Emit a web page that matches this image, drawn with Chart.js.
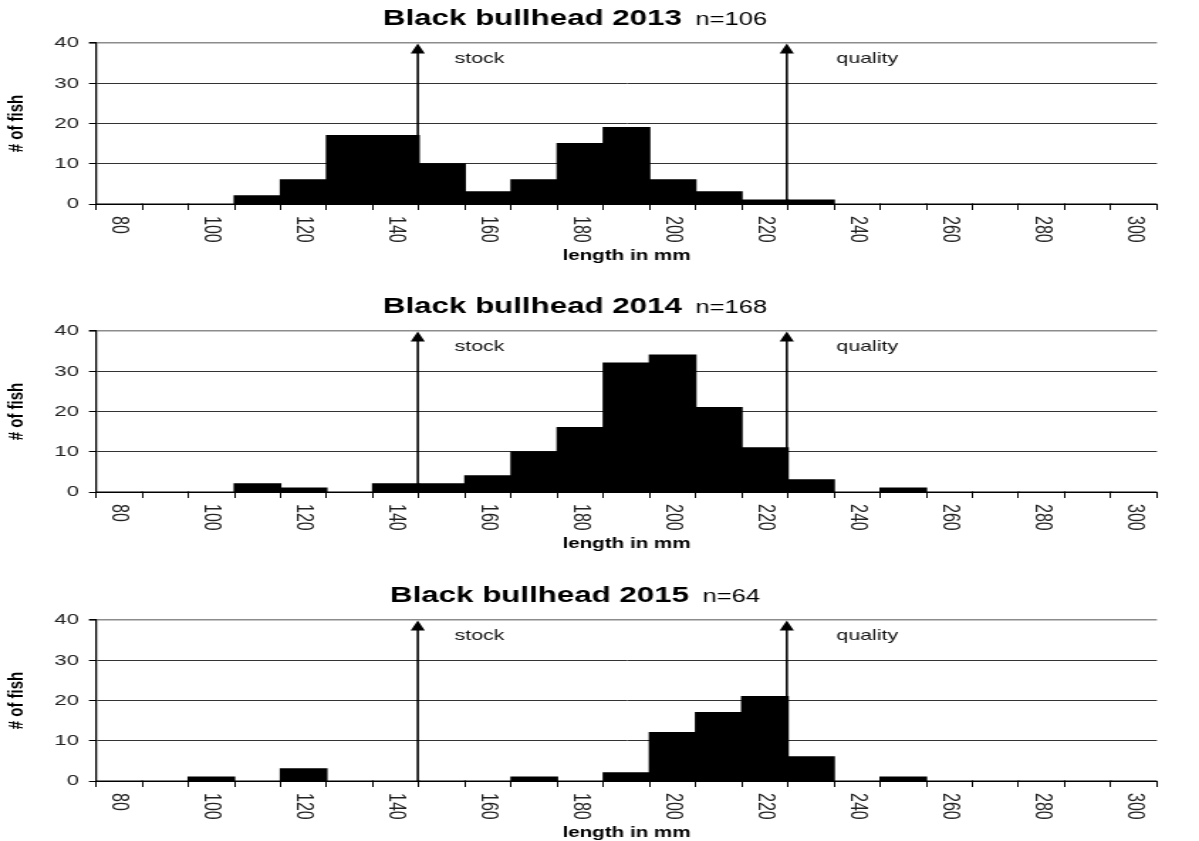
<!DOCTYPE html>
<html>
<head>
<meta charset="utf-8">
<script src="https://cdn.jsdelivr.net/npm/chart.js@4.4.0/dist/chart.umd.min.js"></script>
<style>
html,body{margin:0;padding:0;background:#fff;overflow:hidden;}
#wrap{position:relative;width:1199px;height:841px;overflow:hidden;background:#fff;}
.panel{position:absolute;left:0;transform-origin:0 0;transform:scale(1.42062,1);}
canvas{display:block;}
</style>
</head>
<body>
<div id="wrap">
  <div class="panel" style="top:0px"><canvas id="c0" width="844" height="288"></canvas></div>
  <div class="panel" style="top:288px"><canvas id="c1" width="844" height="288"></canvas></div>
  <div class="panel" style="top:577px"><canvas id="c2" width="844" height="264"></canvas></div>
</div>
<script>
// ---- data ----
const lengthBins = [80,90,100,110,120,130,140,150,160,170,180,190,200,210,220,230,240,250,260,270,280,290,300];
const xTickLabels = ['80','100','120','140','160','180','200','220','240','260','280','300'];
const years = ['2013','2014','2015'];
const sampleSizes = [106,168,64];
const counts2013 = [0,0,0,2,6,17,17,10,3,6,15,19,6,3,1,1,0,0,0,0,0,0,0];
const counts2014 = [0,0,0,2,1,0,2,2,4,10,16,32,34,21,11,3,0,1,0,0,0,0,0];
const counts2015 = [0,0,1,0,3,0,0,0,0,1,0,2,12,17,21,6,0,1,0,0,0,0,0];
const thresholdLengths = [145,225];
const thresholdNames = ['stock','quality'];
const yMin = 0, yMax = 40, yStep = 10;
const speciesName = 'Black bullhead';
const xTitle = 'length in mm';
const yTitle = '# of fish';

const FONT = '"Liberation Sans", Arial, Helvetica, sans-serif';
const labelOffsets = [26, 35];

function decorPlugin(year, n) {
  return {
    id: 'decor',
    afterDatasetsDraw(chart) {
      const ctx = chart.ctx, xs = chart.scales.x, ys = chart.scales.y;
      const step = lengthBins[1] - lengthBins[0];
      ctx.save();
      thresholdLengths.forEach((t, i) => {
        const idx = (t - lengthBins[0]) / step;
        const x = xs.getPixelForValue(idx) - 0.8;
        const y0 = ys.getPixelForValue(yMin);
        const y1 = ys.getPixelForValue(yMax);
        ctx.strokeStyle = '#000';
        ctx.fillStyle = '#000';
        ctx.lineWidth = 1.6;
        ctx.beginPath();
        ctx.moveTo(x, y0);
        ctx.lineTo(x, y1 + 8);
        ctx.stroke();
        ctx.beginPath();
        ctx.moveTo(x, y1 + 0.5);
        ctx.lineTo(x - 5, y1 + 10.5);
        ctx.lineTo(x + 5, y1 + 10.5);
        ctx.closePath();
        ctx.fill();
        ctx.font = '15px ' + FONT;
        ctx.fillStyle = '#111';
        ctx.textAlign = 'left';
        ctx.textBaseline = 'alphabetic';
        ctx.fillText(thresholdNames[i], x + labelOffsets[i], y1 + 20);
      });
      ctx.restore();
    },
    afterDraw(chart) {
      const ctx = chart.ctx, xs = chart.scales.x, area = chart.chartArea;
      ctx.save();
      // title
      const t1 = speciesName + ' ' + year;
      const t2 = 'n=' + n;
      ctx.font = 'bold 22px ' + FONT;
      const w1 = ctx.measureText(t1).width;
      ctx.font = '18px ' + FONT;
      const w2 = ctx.measureText(t2).width;
      const gap = 9.6;
      const cx = 404.8;
      const start = cx - (w1 + gap + w2) / 2;
      ctx.fillStyle = '#000';
      ctx.textAlign = 'left';
      ctx.textBaseline = 'alphabetic';
      ctx.font = 'bold 22px ' + FONT;
      ctx.fillText(t1, start, 25);
      ctx.font = '18px ' + FONT;
      ctx.fillText(t2, start + w1 + gap, 25);
      // rotated x tick labels (clockwise)
      ctx.font = '16px ' + FONT;
      ctx.fillStyle = '#222';
      xTickLabels.forEach(lbl => {
        const idx = lengthBins.indexOf(Number(lbl));
        const x = xs.getPixelForValue(idx);
        ctx.save();
        ctx.translate(x, area.bottom + 12);
        ctx.rotate(Math.PI / 2);
        ctx.textAlign = 'left';
        ctx.textBaseline = 'middle';
        ctx.fillText(lbl, 0, 0);
        ctx.restore();
      });
      // x title
      ctx.font = 'bold 14.5px ' + FONT;
      ctx.fillStyle = '#000';
      ctx.textAlign = 'center';
      ctx.textBaseline = 'alphabetic';
      ctx.fillText(xTitle, (area.left + area.right) / 2, area.bottom + 56);
      ctx.restore();
    }
  };
}

function makeChart(id, counts, year, n) {
  const canvas = document.getElementById(id);
  const H = canvas.height;
  return new Chart(canvas, {
    type: 'bar',
    data: {
      labels: lengthBins.map(String),
      datasets: [{
        data: counts,
        backgroundColor: '#000',
        borderWidth: 0,
        inflateAmount: 0.6,
        barPercentage: 1.0,
        categoryPercentage: 1.0
      }]
    },
    options: {
      responsive: false,
      animation: false,
      devicePixelRatio: 1,
      layout: { padding: { top: 43, left: 0, right: 29.6, bottom: 0 } },
      plugins: { legend: { display: false }, tooltip: { enabled: false }, title: { display: false } },
      scales: {
        x: {
          type: 'category',
          offset: true,
          ticks: { display: false },
          grid: { offset: true, drawOnChartArea: false, drawTicks: true, tickLength: 6, color: '#000', lineWidth: 1 },
          border: { display: true, color: '#000', width: 1 },
          afterFit(scale) { scale.height = H - 204; }
        },
        y: {
          min: yMin, max: yMax,
          ticks: { stepSize: yStep, color: '#222', padding: 7, font: { family: FONT, size: 15.5 } },
          grid: {
            drawTicks: true, tickLength: 5,
            color: c => (c.tick && c.tick.value === yMax) ? '#8c8c8c' : '#333',
            lineWidth: c => (c.tick && c.tick.value === yMax) ? 1.6 : 1,
            tickColor: '#000'
          },
          border: { display: true, color: '#000', width: 1.3 },
          title: { display: true, text: yTitle, color: '#000', font: { family: FONT, size: 15, weight: 'bold' }, padding: { top: 3, bottom: 0 } },
          afterFit(scale) { scale.width = 67.6; }
        }
      }
    },
    plugins: [decorPlugin(year, n)]
  });
}

makeChart('c0', counts2013, years[0], sampleSizes[0]);
makeChart('c1', counts2014, years[1], sampleSizes[1]);
makeChart('c2', counts2015, years[2], sampleSizes[2]);
</script>
</body>
</html>
